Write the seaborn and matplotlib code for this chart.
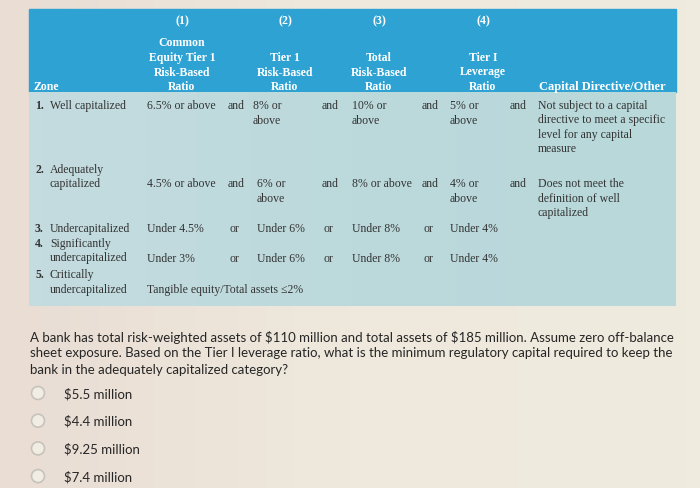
import matplotlib
matplotlib.use("Agg")
import numpy as np
import matplotlib.pyplot as plt
from matplotlib.patches import Rectangle, Circle
import seaborn as sns

# Données du tableau
col_numbers = ["(1)", "(2)", "(3)", "(4)"]
col_titles = [
    ["Common", "Equity Tier 1", "Risk-Based", "Ratio"],
    ["Tier 1", "Risk-Based", "Ratio"],
    ["Total", "Risk-Based", "Ratio"],
    ["Tier I", "Leverage", "Ratio"],
]
directive_title = "Capital Directive/Other"

zone_nums = ["1.", "2.", "3.", "4.", "5."]
zone_names = [["Well capitalized"], ["Adequately", "capitalized"], ["Undercapitalized"],
              ["Significantly", "undercapitalized"], ["Critically", "undercapitalized"]]
cet1 = ["6.5% or above", "4.5% or above", "Under 4.5%", "Under 3%",
        "Tangible equity/Total assets \u22642%"]
tier1 = [["8% or", "above"], ["6% or", "above"], ["Under 6%"], ["Under 6%"], []]
total = [["10% or", "above"], ["8% or above"], ["Under 8%"], ["Under 8%"], []]
leverage = [["5% or", "above"], ["4% or", "above"], ["Under 4%"], ["Under 4%"], []]
joiners = ["and", "and", "or", "or", ""]
directive = [["Not subject to a capital", "directive to meet a specific",
              "level for any capital", "measure"],
             ["Does not meet the", "definition of well", "capitalized"], [], [], []]

question = ["A bank has total risk-weighted assets of $110 million and total assets of $185 million. Assume zero off-balance",
            "sheet exposure. Based on the Tier I leverage ratio, what is the minimum regulatory capital required to keep the",
            "bank in the adequately capitalized category?"]
options = ["$5.5 million", "$4.4 million", "$9.25 million", "$7.4 million"]

# Mise en page (pixels)
sns.set_theme(style="white")
plt.rcParams["font.family"] = ["Liberation Serif", "DejaVu Serif"]

fig = plt.figure(figsize=(7, 4.89), dpi=100, facecolor="#eee8dc")
ax = fig.add_axes([0, 0, 1, 1])

# fond légèrement dégradé
bg = sns.blend_palette(["#e9ddd4", "#efe9dd", "#f0ebdf"], n_colors=50)
ax.imshow(np.array(bg)[None, :, :], extent=(0, 700, 489, 0), aspect="auto", zorder=0)

# bandeau d'en-tête et corps du tableau
ax.add_patch(Rectangle((29, 10), 647, 83, color="#2ea3d3", zorder=1))
body = sns.blend_palette(["#c4dcdf", "#bcd9dc", "#b9d8da"], n_colors=50)
ax.imshow(np.array(body)[None, :, :], extent=(29, 676, 307, 93), aspect="auto", zorder=1)
ax.set_xlim(0, 700)
ax.set_ylim(489, 0)
ax.axis("off")

hdr = dict(color="white", fontsize=8.5, fontweight="bold", ha="center", va="center", zorder=3)
col_cx = [182, 285, 379, 483]
for cx, num, title in zip(col_cx, col_numbers, col_titles):
    ax.text(cx, 21, num, **hdr)
    for i, line in enumerate(reversed(title)):
        ax.text(cx, 87 - i * 14.5, line, **hdr)
ax.text(33, 87, "Zone", **{**hdr, "ha": "left"})
ax.text(602, 87, directive_title, **{**hdr, "fontsize": 9})

txt = dict(color="#333333", fontsize=8.5, ha="left", va="center", zorder=3)
zone_y = [106, 170, 229, 244, 275]
row_y = [106, 184, 229, 259, 290]
lh = 14.5
for r in range(5):
    ax.text(35, zone_y[r], zone_nums[r], **{**txt, "fontweight": "bold"})
    for i, line in enumerate(zone_names[r]):
        ax.text(50, zone_y[r] + i * lh, line, **txt)
    y = row_y[r]
    ax.text(147, y, cet1[r], **txt)
    x2 = 253 if r == 0 else 257
    for i, line in enumerate(tier1[r]):
        ax.text(x2, y + i * lh, line, **txt)
    for i, line in enumerate(total[r]):
        ax.text(352, y + i * lh, line, **txt)
    for i, line in enumerate(leverage[r]):
        ax.text(450, y + i * lh, line, **txt)
    if r < 4:
        off = 2 if joiners[r] == "or" else 0
        ax.text(228 + off, y, joiners[r], **txt)
        ax.text(322 + off, y, joiners[r], **txt)
        ax.text(422 + off, y, joiners[r], **txt)
    if directive[r]:
        ax.text(510, y, joiners[r], **txt)
        for i, line in enumerate(directive[r]):
            ax.text(538, y + i * lh, line, **txt)

# question
q = dict(color="#262626", fontsize=9.5, family=["Lato", "DejaVu Sans"], ha="left",
         va="center", parse_math=False)
for i, line in enumerate(question):
    ax.text(30, 337 + i * 16.3, line, **q)
for i, opt in enumerate(options):
    yy = 394 + i * 27.7
    ax.add_patch(Circle((38, yy), 6.5, facecolor="#f1ede4", edgecolor="#c6c3bb", lw=1.2, zorder=3))
    ax.text(64, yy, opt, **q)

fig.savefig("out.png", dpi=100, facecolor=fig.get_facecolor())
